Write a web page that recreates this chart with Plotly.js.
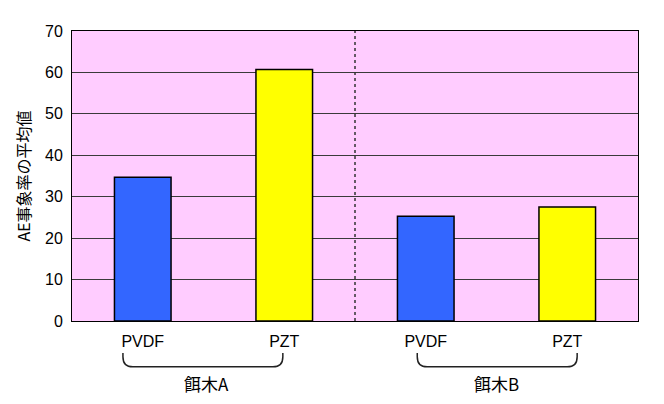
<!DOCTYPE html>
<html><head><meta charset="utf-8">
<script src="https://cdn.plot.ly/plotly-3.0.1.min.js"></script>
<style>html,body{margin:0;padding:0;background:#fff}</style>
</head><body>
<div id="chart" style="width:664px;height:404px"></div>
<script>
const categories = ["PVDF", "PZT", "PVDF", "PZT"];
const values = [34.7, 60.7, 25.3, 27.5];
const barColors = ["#3366FF", "#FFFF00", "#3366FF", "#FFFF00"];
const groups = ["餌木A", "餌木B"];
const yTicks = [0, 10, 20, 30, 40, 50, 60, 70];

const xIdx = categories.map((c, i) => i);

const trace = {
  type: "bar",
  x: xIdx,
  y: values,
  width: 0.4,
  marker: {color: barColors, line: {color: "#000", width: 1.5}},
  hoverinfo: "skip"
};

function bracket(x0, x1) {
  const yt = -0.11, yb = -0.158, r = 0.07, dy = 0.035;
  return {
    type: "path", xref: "x", yref: "paper",
    path: `M ${x0} ${yt} L ${x0} ${yb + dy} Q ${x0} ${yb} ${x0 + r} ${yb} L ${x1 - r} ${yb} Q ${x1} ${yb} ${x1} ${yb + dy} L ${x1} ${yt}`,
    line: {color: "#222", width: 1.5}
  };
}

const layout = {
  width: 664, height: 404,
  margin: {l: 72, r: 26, t: 31, b: 83},
  paper_bgcolor: "#FFFFFF",
  plot_bgcolor: "#FFCCFF",
  showlegend: false,
  font: {family: "Arial, 'Liberation Sans', sans-serif", size: 16, color: "#000"},
  xaxis: {
    range: [-0.5, 3.5],
    tickvals: xIdx, ticktext: categories,
    showgrid: false, zeroline: false,
    showline: true, mirror: true, linecolor: "#000", linewidth: 1,
    ticks: "outside", ticklen: 6, tickcolor: "rgba(0,0,0,0)",
    tickfont: {size: 16}
  },
  yaxis: {
    range: [0, 70],
    tickvals: yTicks,
    showgrid: true, gridcolor: "#3a3a3a", gridwidth: 1,
    zeroline: false,
    showline: true, mirror: true, linecolor: "#000", linewidth: 1,
    ticks: "outside", ticklen: 5, tickcolor: "rgba(0,0,0,0)",
    tickfont: {size: 16},
    title: {text: "AE事象率の平均値", font: {size: 16, family: "'Noto Sans CJK JP', sans-serif"}, standoff: 10}
  },
  shapes: [
    {type: "line", xref: "x", yref: "paper", x0: 1.5, x1: 1.5, y0: 0, y1: 1,
     line: {color: "#333", width: 1.5, dash: "dot"}},
    bracket(-0.14, 0.99),
    bracket(1.94, 3.07)
  ],
  annotations: [
    {xref: "x", yref: "paper", x: 0.45, y: -0.214, yanchor: "middle", text: groups[0], showarrow: false,
     font: {size: 17, family: "'Noto Sans CJK JP', Arial, sans-serif"}},
    {xref: "x", yref: "paper", x: 2.5, y: -0.214, yanchor: "middle", text: groups[1], showarrow: false,
     font: {size: 17, family: "'Noto Sans CJK JP', Arial, sans-serif"}}
  ]
};

Plotly.newPlot("chart", [trace], layout, {displayModeBar: false, staticPlot: true});
</script>
</body></html>
